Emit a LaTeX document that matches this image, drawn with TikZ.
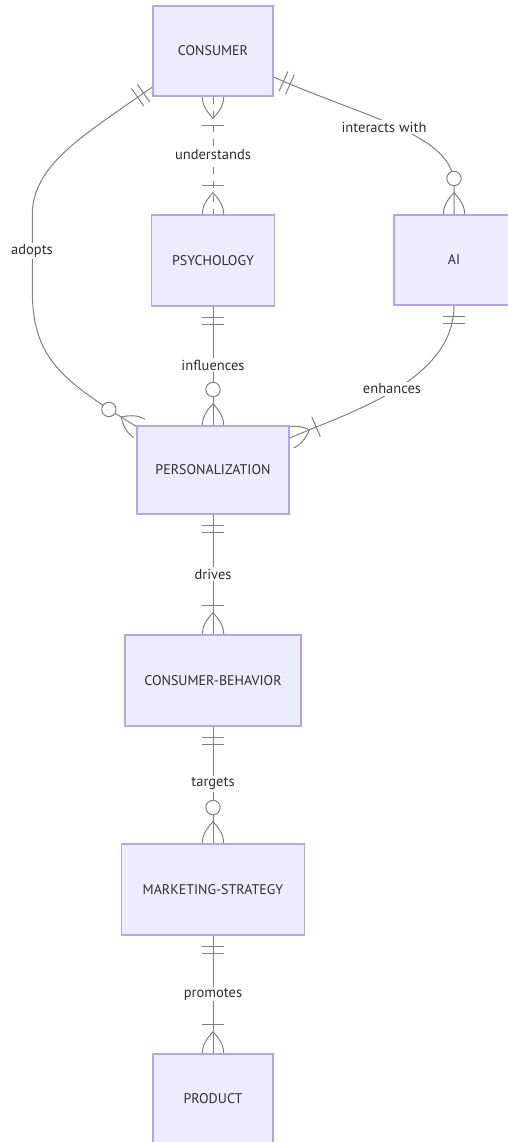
\documentclass[tikz,border=0pt]{standalone}
\usepackage{fontspec}
\setmainfont{PT Sans}
\usetikzlibrary{calc}
\pgfdeclarelayer{bg}
\pgfsetlayers{bg,main}
\definecolor{efill}{HTML}{ECECFF}
\definecolor{estroke}{HTML}{9370DB}
\definecolor{rline}{HTML}{808080}
\definecolor{txt}{HTML}{2E2E2E}
\tikzset{
  entity/.style={draw=estroke!65!white, fill=efill, line width=1.1pt, inner sep=0pt,
    text=txt, font=\fontsize{14}{16}\selectfont},
  rel/.style={draw=rline, line width=1pt},
  nonid/.style={rel, dash pattern=on 7pt off 7pt},
  rlabel/.style={fill=white, inner sep=1.5pt, text=txt, font=\fontsize{14.5}{16}\selectfont},
  pics/mkone/.style={code={
    \draw[rel] (10.8,-10.8) -- (10.8,10.8) (18,-10.8) -- (18,10.8);}},
  pics/mkomany/.style={code={
    \draw[rel] (0,10.8) .. controls (7.2,10.8) and (14.4,7.2) .. (21.6,0)
      .. controls (14.4,-7.2) and (7.2,-10.8) .. (0,-10.8);
    \draw[rel] (28.8,-10.8) -- (28.8,10.8);}},
  pics/mkzmany/.style={code={
    \draw[rel] (0,10.8) .. controls (7.2,10.8) and (14.4,7.2) .. (21.6,0)
      .. controls (14.4,-7.2) and (7.2,-10.8) .. (0,-10.8);
    \draw[rel, fill=white] (36,0) circle (7.2);}}
}
\begin{document}
\begin{tikzpicture}[x=1pt,y=-1pt]
\useasboundingbox (0,0) rectangle (508,1142);
% entities
\node[entity, minimum width=120pt, minimum height=90pt] (consumer) at (213,51) {CONSUMER};
\node[entity, minimum width=123pt, minimum height=91pt] (psych) at (213,260.5) {PSYCHOLOGY};
\node[entity, minimum width=120pt, minimum height=90pt] (ai) at (454,260) {AI};
\node[entity, minimum width=152pt, minimum height=88pt] (pers) at (213,470) {PERSONALIZATION};
\node[entity, minimum width=176pt, minimum height=91pt] (cb) at (213,680.5) {CONSUMER-BEHAVIOR};
\node[entity, minimum width=183pt, minimum height=91pt] (ms) at (213,889.5) {MARKETING-STRATEGY};
\node[entity, minimum width=120pt, minimum height=90pt] (product) at (213,1099) {PRODUCT};
% attachment points
\coordinate (cR) at ([yshift=-26pt]consumer.east);
\coordinate (cL) at ([yshift=-36pt]consumer.west);
\coordinate (aiin) at ([yshift=30pt]ai.north);
\coordinate (aw1) at (32.3,215);
\coordinate (aw2) at (32.3,290);
\coordinate (pNW) at ([shift={(3pt,-3pt)}]pers.north west);
\coordinate (pE) at ([yshift=32pt]pers.east);
\begin{pgfonlayer}{bg}
\fill[white] (0,0) rectangle (508,1142);
% understands
\draw[nonid] (consumer.south) -- (psych.north);
\pic[rotate=-90] at (consumer.south) {mkomany};
\pic[rotate=90] at (psych.north) {mkomany};
% interacts with
\draw[rel] (cR) .. controls +(91.4,40.7) and +(0,-50) .. (aiin) -- (ai.north);
\pic[rotate=-24] at (cR) {mkone};
\pic[rotate=90] at (ai.north) {mkzmany};
% adopts
\draw[rel] (cL) .. controls +(-70,49) and +(0,-50) .. (aw1) -- (aw2)
  .. controls +(0,70) and +(-76.4,-47.5) .. (pNW);
\pic[rotate=-145] at (cL) {mkone};
\pic[rotate=148.1] at (pNW) {mkzmany};
% influences
\draw[rel] (psych.south) -- (pers.north);
\pic[rotate=-90] at (psych.south) {mkone};
\pic[rotate=90] at (pers.north) {mkzmany};
% enhances
\draw[rel] (ai.south) .. controls +(0,75) and +(61,-26) .. (pE);
\pic[rotate=-90] at (ai.south) {mkone};
\pic[rotate=23] at (pE) {mkomany};
% drives
\draw[rel] (pers.south) -- (cb.north);
\pic[rotate=-90] at (pers.south) {mkone};
\pic[rotate=90] at (cb.north) {mkomany};
% targets
\draw[rel] (cb.south) -- (ms.north);
\pic[rotate=-90] at (cb.south) {mkone};
\pic[rotate=90] at (ms.north) {mkzmany};
% promotes
\draw[rel] (ms.south) -- (product.north);
\pic[rotate=-90] at (ms.south) {mkone};
\pic[rotate=90] at (product.north) {mkomany};
\end{pgfonlayer}
% relationship labels
\node[rlabel] (l1) at (213,155) {understands};
\node[rlabel] (l2) at (384,127) {interacts with};
\node[rlabel] (l3) at (32,251) {adopts};
\node[rlabel] (l4) at (213,365) {influences};
\node[rlabel] (l5) at (392,389) {enhances};
\node[rlabel] (l6) at (213,574) {drives};
\node[rlabel] (l7) at (213,784) {targets};
\node[rlabel] (l8) at (213,994) {promotes};
\end{tikzpicture}
\end{document}
